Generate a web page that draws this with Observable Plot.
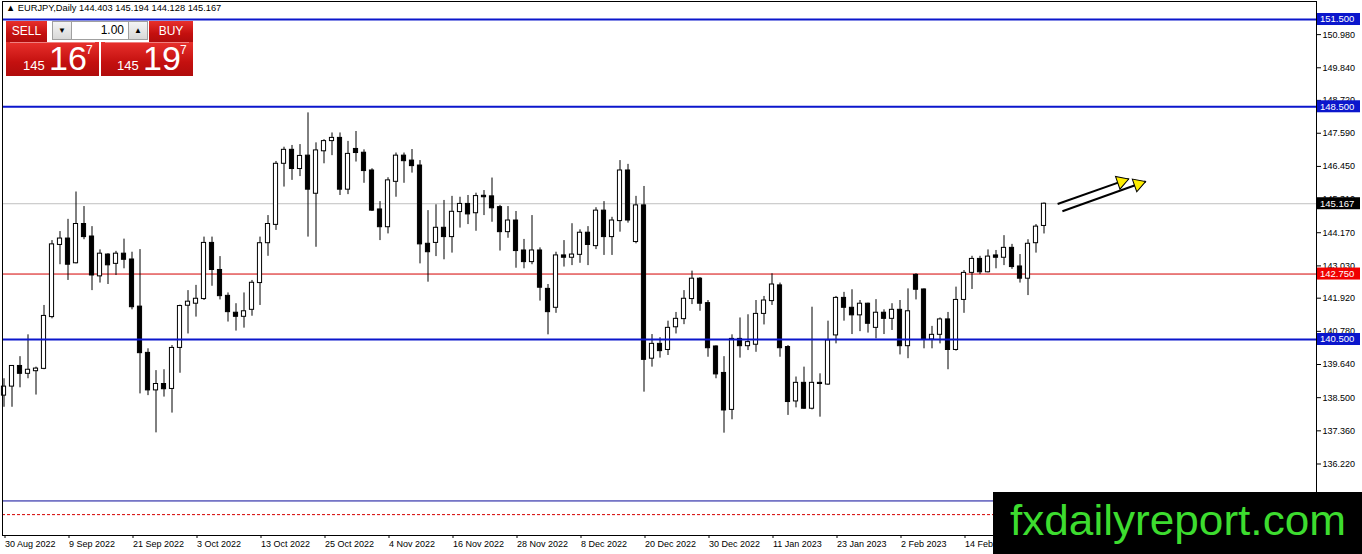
<!DOCTYPE html>
<html><head><meta charset="utf-8">
<script src="https://cdn.jsdelivr.net/npm/d3@7"></script>
<script src="https://cdn.jsdelivr.net/npm/@observablehq/plot@0.6"></script>
<style>
body{margin:0;background:#fff;}
#wrap{position:relative;width:1362px;height:554px;overflow:hidden;font-family:"Liberation Sans",Arial,sans-serif;}
#wrap svg{display:block;}
.ov{position:absolute;box-sizing:border-box;}
#title{left:6px;top:3px;font-size:9.3px;color:#000;white-space:nowrap;}
.red{background:linear-gradient(#e8302c,#c4100f 60%,#b00c0c);color:#fff;}
.lbl{font-size:12px;text-align:center;line-height:20px;}
.small{background:linear-gradient(#f4f4f4,#d8d8d8);border:1px solid #a0a0a0;font-size:8px;text-align:center;line-height:17px;color:#000;}
.num{position:absolute;color:#fff;white-space:nowrap;}
</style></head><body>
<div id="wrap"></div>
<script>
// ---- data ----
const opens  = [138.57,138.88,139.59,139.32,139.41,139.49,141.27,143.75,143.97,143.12,144.47,144.04,142.67,143.42,143.10,143.45,143.25,141.63,140.04,138.75,138.97,138.80,140.21,141.66,141.73,141.89,143.82,142.89,142.00,141.42,141.28,141.52,142.44,143.81,144.44,146.54,147.02,146.36,146.82,145.51,146.97,147.32,147.43,145.65,147.05,146.92,146.31,144.97,144.36,145.92,146.82,146.65,146.48,143.79,143.82,144.34,144.02,144.88,145.16,144.84,145.44,145.42,145.05,144.19,144.59,143.56,143.16,143.56,142.24,141.59,143.39,143.31,143.41,144.17,143.71,144.93,144.02,144.57,146.31,143.85,145.11,139.84,140.35,140.14,140.92,141.20,141.89,142.59,141.75,140.26,139.35,138.08,140.52,140.27,140.32,141.38,141.82,142.36,140.24,138.37,139.01,138.12,139.01,138.95,140.64,141.93,141.59,141.33,141.73,140.90,141.42,141.21,141.52,140.27,142.72,142.22,140.50,140.66,141.19,140.14,141.86,142.79,143.27,142.81,143.39,143.31,143.65,143.01,142.59,143.81,144.403];
const highs  = [139.15,139.60,139.91,140.66,139.55,141.67,143.90,144.21,144.63,145.57,145.07,144.38,143.58,143.45,143.53,143.95,143.50,143.59,140.18,139.43,139.46,140.29,141.68,142.18,142.36,144.02,144.02,143.35,142.10,141.73,142.10,142.53,144.02,144.76,146.62,147.11,147.17,147.20,148.29,147.26,147.37,147.60,147.60,147.31,147.65,147.02,146.37,145.24,146.06,146.91,146.91,147.03,146.65,144.93,145.13,145.28,145.42,145.39,145.45,145.53,145.62,146.05,145.11,145.07,144.90,143.94,144.76,143.65,142.39,143.50,143.90,144.48,144.27,144.38,145.03,145.24,144.70,146.65,146.52,145.42,145.76,140.67,140.56,141.13,141.43,142.18,142.85,142.63,141.84,140.28,139.91,140.66,141.24,141.35,141.84,141.98,142.76,142.44,140.29,139.21,139.55,141.61,139.32,141.13,141.98,142.12,142.21,141.84,141.75,141.87,141.52,141.73,141.84,142.24,142.76,142.24,140.95,141.24,141.43,142.30,142.87,143.36,143.36,143.58,143.56,144.07,143.77,143.42,143.93,144.45,145.194];
const lows   = [138.17,138.17,138.84,139.15,138.59,139.46,141.21,143.07,142.53,143.10,143.93,142.18,142.44,142.39,142.70,142.93,141.52,138.63,138.57,137.29,138.52,137.97,139.34,140.69,141.27,141.84,142.33,141.86,141.10,140.79,140.89,141.30,141.67,143.36,144.25,145.74,145.97,146.10,144.02,143.67,146.54,146.82,145.45,145.48,146.60,145.87,144.90,143.90,144.13,145.39,145.87,146.22,143.10,142.47,143.35,143.24,143.47,144.33,144.45,144.22,144.76,144.53,143.54,143.98,142.95,142.93,143.07,141.82,140.66,141.40,142.99,143.04,143.12,143.04,143.59,143.39,143.39,144.19,144.50,143.79,138.69,139.55,139.86,139.95,140.69,141.01,141.70,141.47,139.89,139.15,137.28,137.74,139.86,140.12,140.06,141.00,141.67,139.89,137.89,138.15,138.10,138.08,137.83,138.92,140.35,141.13,140.67,140.77,140.72,140.52,140.67,140.81,139.97,139.84,141.86,140.18,140.18,140.35,139.46,140.10,141.40,142.22,142.73,142.79,142.93,143.04,142.91,142.44,142.01,143.47,144.128];
const closes = [138.88,139.59,139.32,139.46,139.50,141.31,143.77,143.97,143.07,144.47,144.02,142.70,143.45,143.05,143.45,143.24,141.61,140.03,138.75,138.97,138.79,140.21,141.65,141.80,141.90,143.82,142.89,141.99,141.44,141.28,141.47,142.45,143.81,144.47,146.54,147.02,146.36,146.81,145.65,147.00,147.32,147.43,145.65,146.88,146.91,146.29,144.93,144.36,145.97,146.82,146.63,146.46,143.77,143.50,144.34,144.02,144.89,145.16,144.80,145.43,145.39,145.01,144.19,144.59,143.54,143.16,143.56,142.28,141.44,143.39,143.31,143.42,144.17,143.75,144.93,144.02,144.59,146.31,144.59,145.11,139.80,140.35,140.10,140.90,141.21,141.90,142.59,141.73,140.20,139.30,138.06,140.52,140.27,140.41,141.38,141.84,142.39,140.20,138.35,139.01,138.12,139.01,138.97,140.47,141.93,141.59,141.33,141.73,141.04,141.42,141.21,141.52,140.27,141.47,142.21,140.50,140.66,141.19,140.14,141.86,142.79,143.27,142.81,143.35,143.31,143.65,142.99,142.59,143.79,144.38,145.167];

const dateTickIdx = [1,9,17,25,33,41,49,57,65,73,81,89,97,105,113,121];
const dateLabels  = ["30 Aug 2022","9 Sep 2022","21 Sep 2022","3 Oct 2022","13 Oct 2022","25 Oct 2022","4 Nov 2022","16 Nov 2022","28 Nov 2022","8 Dec 2022","20 Dec 2022","30 Dec 2022","11 Jan 2023","23 Jan 2023","2 Feb 2023","14 Feb 2023"];
const priceTicks  = [150.98,149.84,148.72,147.59,146.45,145.31,144.17,143.03,141.92,140.78,139.64,138.50,137.36,136.22,135.08];

const levelsBlue   = [151.5,148.5,140.5];
const levelRed     = [142.75];
const levelCurrent = [145.167];
const levelLowBlue = [134.95];
const levelLowRed  = [134.48];

const arrowX1 = [132.7,133.3];
const arrowY1 = [145.16,144.91];
const arrowX2 = [141.6,143.7];
const arrowY2 = [146.02,145.93];

const priceBoxValues = [151.5,148.5,145.167,142.75,140.5];
const priceBoxColors = ["#0b16cc","#0b16cc","#000000","#f00000","#0b16cc"];

// ---- build ----
const candles = opens.map((o,k)=>({i:k+1,o,h:highs[k],l:lows[k],c:closes[k]}));
const arrows = arrowX1.map((x,k)=>({x1:x,y1:arrowY1[k],x2:arrowX2[k],y2:arrowY2[k]}));

const chart = Plot.plot({
  width:1362, height:554,
  marginLeft:2, marginTop:1, marginRight:46, marginBottom:19,
  style:{fontFamily:"Liberation Sans, Arial, sans-serif", fontSize:"9px", background:"#fff", color:"#000", overflow:"visible"},
  x:{type:"linear", domain:[0.8125,165.0625]},
  y:{domain:[133.762,152.119]},
  marks:[
    Plot.ruleY(levelCurrent,{stroke:"#c0c0c0"}),
    Plot.ruleY(levelRed,{stroke:"#d40000"}),
    Plot.ruleY(levelLowBlue,{stroke:"#0a0a9a"}),
    Plot.ruleY(levelLowRed,{stroke:"#d40000", strokeDasharray:"3,2"}),
    Plot.ruleX(candles,{x:"i", y1:"l", y2:"h", stroke:"#000"}),
    Plot.rect(candles,{x1:d=>d.i-0.26, x2:d=>d.i+0.26, y1:"o", y2:"c",
      fill:d=>d.c>=d.o?"#fff":"#000", stroke:"#000"}),
    Plot.ruleY(levelsBlue,{stroke:"#0b16cc", strokeWidth:2}),
    Plot.link(arrows,{x1:"x1",y1:"y1",x2:"x2",y2:"y2",stroke:"#000",strokeWidth:2}),
    Plot.dot(arrows,{x:"x2",y:"y2",symbol:"triangle",rotate:70.8,r:5,fill:"#ffee00",stroke:"#000",strokeWidth:1,dx:-7.4,dy:2.6}),
    Plot.axisY(priceTicks,{anchor:"right", tickSize:4, tickPadding:2, tickFormat:d=>d.toFixed(3), fontSize:9}),
    Plot.axisX(dateTickIdx,{anchor:"bottom", tickSize:3, tickPadding:2, textAnchor:"start", dx:1,
      tickFormat:d=>dateLabels[dateTickIdx.indexOf(d)], fontSize:9}),
    Plot.frame({stroke:"#000"})
  ]
});

const wrap = document.getElementById("wrap");
wrap.appendChild(chart);

// price labels on the right axis, placed with the plot's y scale
const yS = chart.scale("y");
const g = d3.select(chart).append("g").attr("text-anchor","start");
priceBoxValues.forEach((v,k)=>{
  const y = yS.apply(v);
  g.append("rect").attr("x",1317).attr("y",y-6).attr("width",43).attr("height",12).attr("fill",priceBoxColors[k]);
  g.append("text").attr("x",1320).attr("y",y).attr("dy","0.35em").attr("fill","#fff").attr("text-anchor","start")
    .attr("font-size",9.5).attr("font-family","Liberation Sans, Arial, sans-serif").text(v.toFixed(3));
});

// watermark
const wm = document.createElement("div");
wm.className="ov";
wm.style.cssText="left:993px;top:492px;width:369px;height:62px;background:#000;";
wm.innerHTML='<svg width="369" height="62"><text x="17" y="43" fill="#3ddc2f" font-size="42" font-family="Liberation Sans, Arial, sans-serif" textLength="336" lengthAdjust="spacingAndGlyphs">fxdailyreport.com</text></svg>';
wrap.appendChild(wm);

// title
const t = document.createElement("div");
t.className="ov"; t.id="title";
t.textContent="\u25B2 EURJPY,Daily  144.403 145.194 144.128 145.167";
wrap.appendChild(t);

// trade panel
function box(css, cls, html){const d=document.createElement("div");d.className="ov "+cls;d.style.cssText=css;d.innerHTML=html||"";wrap.appendChild(d);return d;}
box("left:6px;top:21px;width:41px;height:21px;","red lbl","SELL");
box("left:149px;top:21px;width:44px;height:21px;","red lbl","BUY");
box("left:52px;top:21px;width:20px;height:19px;","small","\u25BC");
box("left:71px;top:21px;width:58px;height:19px;background:#fff;border:1px solid #a0a0a0;font-size:12px;text-align:right;padding-right:4px;line-height:17px;color:#000;","","1.00");
box("left:128px;top:21px;width:20px;height:19px;","small","\u25B2");
box("left:6px;top:42px;width:93px;height:34px;","red",
 '<div style="position:absolute;left:4px;right:4px;top:0;height:1px;background:#f08080"></div>'+
 '<span class="num" style="left:17px;top:16px;font-size:13px">145</span>'+
 '<span class="num" style="left:43px;top:-3px;font-size:34px">16</span>'+
 '<span class="num" style="left:80px;top:1px;font-size:12px">7</span>');
box("left:101px;top:42px;width:92px;height:34px;","red",
 '<div style="position:absolute;left:4px;right:4px;top:0;height:1px;background:#f08080"></div>'+
 '<span class="num" style="left:16px;top:16px;font-size:13px">145</span>'+
 '<span class="num" style="left:42px;top:-3px;font-size:34px">19</span>'+
 '<span class="num" style="left:79px;top:1px;font-size:12px">7</span>');
</script>
</body></html>
